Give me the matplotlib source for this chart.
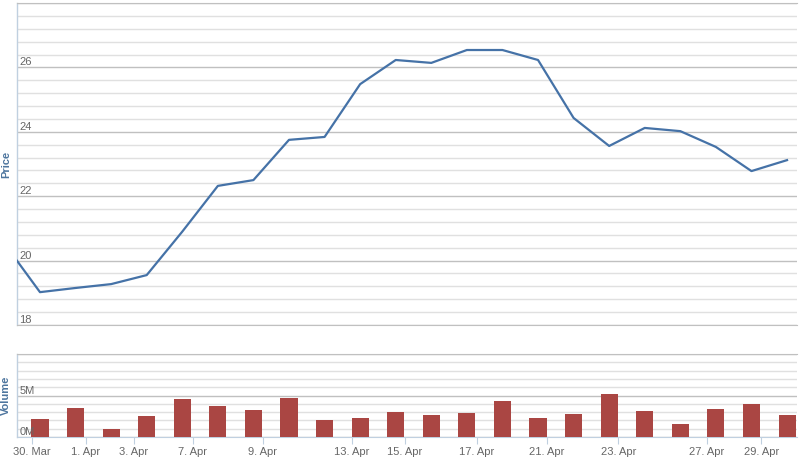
import matplotlib
matplotlib.use('Agg')
import matplotlib.pyplot as plt
import matplotlib.ticker as mticker
import numpy as np

plt.rcParams['font.family'] = ['Liberation Sans', 'DejaVu Sans']

# ordinal (trading-day) index; first price point sits just left of the visible range
price = [20.53, 19.02, 19.15, 19.27, 19.55, 20.90, 22.32, 22.50, 23.75, 23.84,
         25.48, 26.23, 26.14, 26.54, 26.54, 26.23, 24.43, 23.56, 24.12, 24.02,
         23.53, 22.78, 23.12]
volume_m = [2.22, 3.55, 0.93, 2.50, 4.52, 3.71, 3.31, 4.72, 2.02, 2.30, 3.02,
            2.62, 2.94, 4.31, 2.30, 2.82, 5.24, 3.10, 1.61, 3.43, 3.95, 2.62]

tick_labels = ["30. Mar", "1. Apr", "3. Apr", "7. Apr", "9. Apr", "13. Apr",
               "15. Apr", "17. Apr", "21. Apr", "23. Apr", "27. Apr", "29. Apr"]
tick_pos = [-0.22, 1.29, 2.64, 4.30, 6.26, 8.76, 10.25, 12.28, 14.24, 16.26,
            18.74, 20.28]

price_ticks = [18, 20, 22, 24, 26]
volume_ticks = [0, 5]

LINE_COLOR = '#4572A7'
BAR_COLOR = '#AA4643'
GRID = '#C0C0C0'
MINOR_GRID = '#E0E0E0'
AXIS_LINE = '#C0D0E0'
LABEL = '#666666'
TITLE = '#4D759E'

W, H = 800, 459
fig = plt.figure(figsize=(W / 100, H / 100), dpi=100)

def box(l, t, r, b):
    return [l / W, 1 - b / H, (r - l) / W, (b - t) / H]

ax = fig.add_axes(box(17, 3, 797, 325))
axv = fig.add_axes(box(17, 354, 797, 437))

x_price = np.arange(-1, len(price) - 1)
x_vol = np.arange(len(volume_m))

ax.plot(x_price, price, color=LINE_COLOR, linewidth=1.6, zorder=3)
axv.bar(x_vol, volume_m, width=0.48, color=BAR_COLOR, zorder=3)

for a, lo, hi, major, minor in [(ax, 18, 28, 2, 0.4), (axv, 0, 10, 5, 1)]:
    a.set_xlim(-0.646, 21.28)
    a.set_ylim(lo, hi)
    a.yaxis.set_major_locator(mticker.MultipleLocator(major))
    a.yaxis.set_minor_locator(mticker.MultipleLocator(minor))
    a.grid(True, which='major', axis='y', color=GRID, linewidth=1)
    a.grid(True, which='minor', axis='y', color=MINOR_GRID, linewidth=1)
    a.set_axisbelow(True)
    a.tick_params(axis='y', which='both', length=0, labelleft=False)
    a.spines['right'].set_visible(False)
    a.spines['top'].set_color(GRID)
    a.spines['left'].set_color(AXIS_LINE)
    a.spines['left'].set_linewidth(1)

ax.spines['bottom'].set_color(GRID)
ax.set_xticks([])

axv.spines['bottom'].set_color(AXIS_LINE)
axv.set_xticks(tick_pos)
axv.set_xticklabels(tick_labels)
axv.tick_params(axis='x', length=5, color=AXIS_LINE, labelcolor=LABEL,
                labelsize=8, pad=2)

for v in price_ticks:
    ax.text(0.003, v, str(v), transform=ax.get_yaxis_transform(),
            ha='left', va='bottom', fontsize=8, color=LABEL)
for v in volume_ticks:
    axv.text(0.003, v, f"{v}M", transform=axv.get_yaxis_transform(),
             ha='left', va='bottom', fontsize=8, color=LABEL)

fig.text(6 / W, 1 - 164 / H, "Price", rotation=90, ha='center', va='center',
         fontsize=8, fontweight='bold', color=TITLE)
fig.text(6 / W, 1 - 395 / H, "Volume", rotation=90, ha='center', va='center',
         fontsize=8, fontweight='bold', color=TITLE)

fig.savefig("out.png", dpi=100)
